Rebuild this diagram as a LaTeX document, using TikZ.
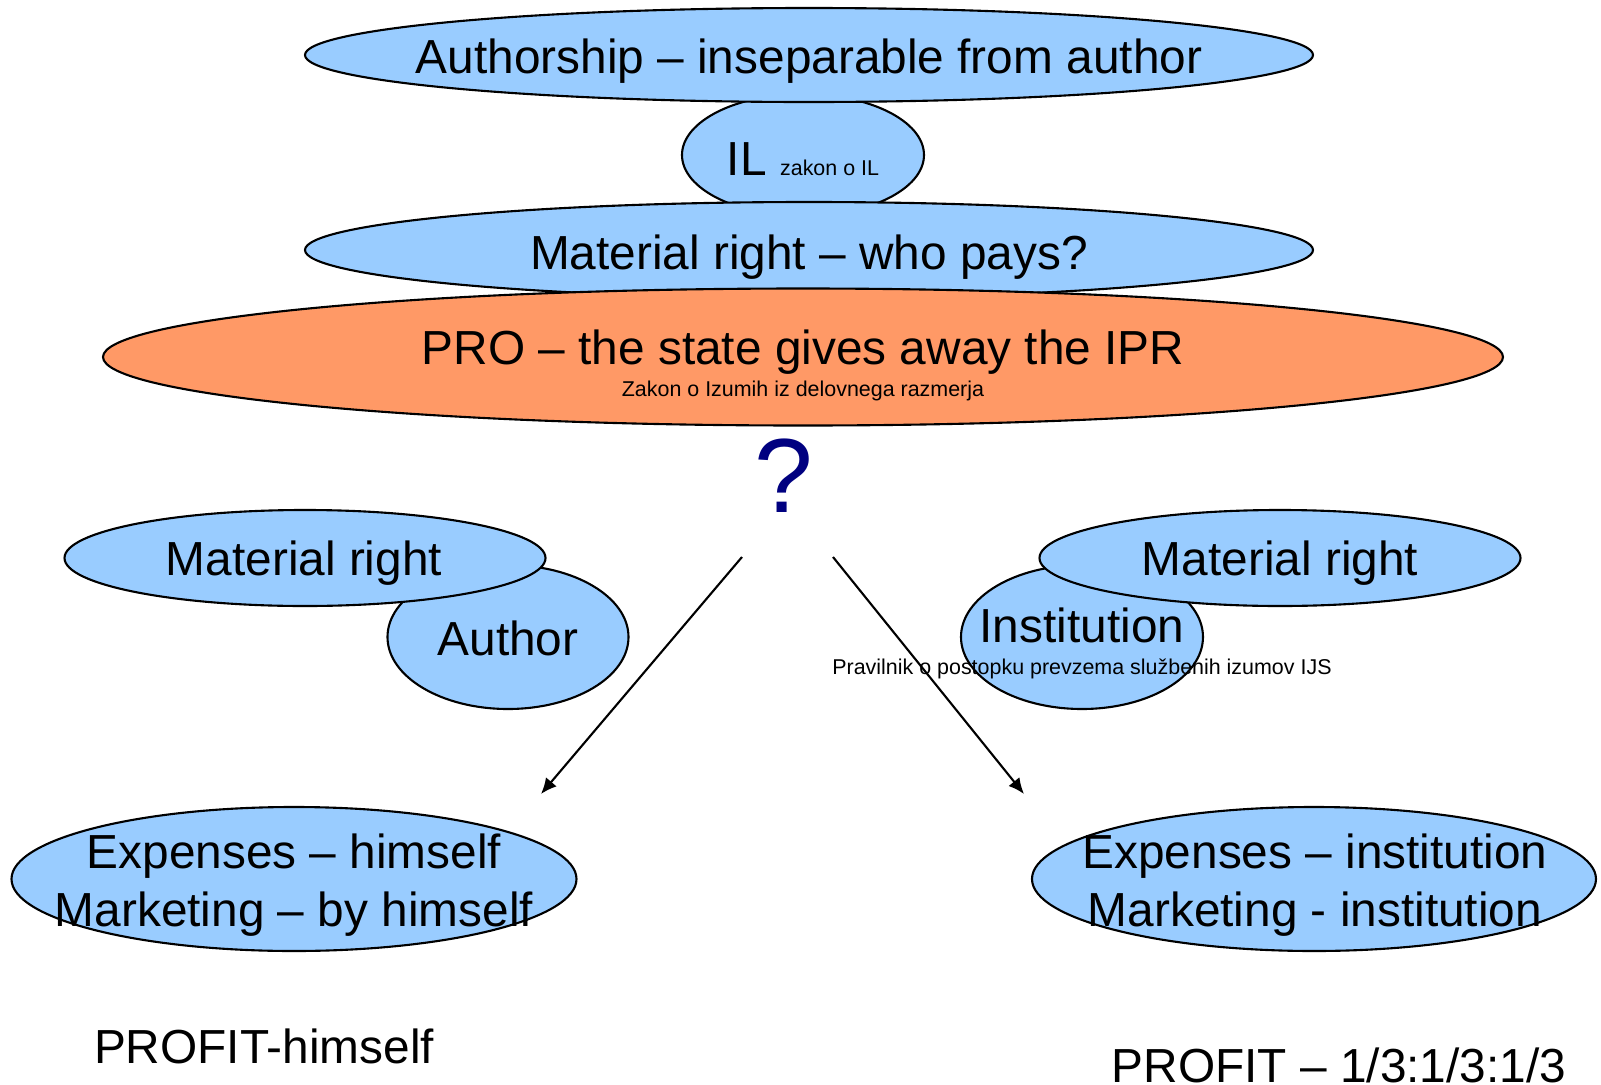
\documentclass[tikz,border=0pt]{standalone}
\usepackage{fontspec}
\setmainfont{Liberation Sans}
\usepackage{xcolor}
\usetikzlibrary{shapes.geometric,arrows.meta,positioning}
\definecolor{skyblue}{HTML}{99CCFF}
\definecolor{salmon}{HTML}{FF9966}
\definecolor{qnavy}{HTML}{000080}
\newcommand{\bigtxt}{\fontsize{13.6}{16.5}\selectfont}
\newcommand{\smalltxt}{\fontsize{6.1}{7}\selectfont}

\begin{document}
\begin{tikzpicture}[
  blob/.style={ellipse, draw=black, fill=skyblue, line width=0.6pt, inner sep=0pt},
  txt/.style={font=\bigtxt, inner sep=0pt, anchor=base},
  note/.style={font=\smalltxt, inner sep=0pt, anchor=base},
  arr/.style={-{Latex[length=4.5pt,width=4pt]}, line width=0.6pt, black}
]
\useasboundingbox (0,0) rectangle (16.01,-10.85);

% top stack
\node[blob, minimum width=2.42cm, minimum height=1.22cm] (il) at (8.03,-1.55) {};
\node[blob, minimum width=10.08cm, minimum height=0.94cm] (auth) at (8.09,-0.55) {};
\node[blob, minimum width=10.08cm, minimum height=0.96cm] (pays) at (8.09,-2.50) {};
\node[blob, fill=salmon, minimum width=14.0cm, minimum height=1.37cm] (pro) at (8.03,-3.57) {};

\node[txt] (authtxt) at (8.09,-0.73) {Authorship – inseparable from author};
\node[txt] (iltxt) at (8.03,-1.75) {IL\ {\smalltxt zakon o IL}};
\node[txt] (paystxt) at (8.09,-2.69) {Material right – who pays?};
\node[txt] (protxt) at (8.03,-3.64) {PRO – the state gives away the IPR};
\node[note] (zakon) at (8.03,-3.96) {Zakon o Izumih iz delovnega razmerja};

\node[txt, font=\fontsize{30}{32}\selectfont, text=qnavy] (quest) at (7.84,-5.12) {?};

% left branch
\node[blob, minimum width=2.41cm, minimum height=1.44cm] (author) at (5.08,-6.37) {};
\node[blob, minimum width=4.81cm, minimum height=0.96cm] (matl) at (3.05,-5.58) {};
\node[txt] (matltxt) at (3.04,-5.75) {Material right};
\node[txt] (authortxt) at (5.08,-6.55) {Author};

% right branch
\node[blob, minimum width=2.42cm, minimum height=1.44cm] (inst) at (10.82,-6.37) {};
\node[blob, minimum width=4.81cm, minimum height=0.96cm] (matr) at (12.80,-5.58) {};
\node[txt] (matrtxt) at (12.80,-5.75) {Material right};
\node[txt] (insttxt) at (10.82,-6.42) {Institution};
\node[note] (pravilnik) at (10.82,-6.74) {Pravilnik o postopku prevzema službenih izumov IJS};

% outcomes
\node[blob, minimum width=5.65cm, minimum height=1.44cm] (costl) at (2.94,-8.79) {};
\node[blob, minimum width=5.64cm, minimum height=1.44cm] (costr) at (13.14,-8.79) {};
\node[txt, anchor=center, align=center] (costltxt) at (2.94,-8.85) {Expenses – himself\\Marketing – by himself};
\node[txt, anchor=center, align=center] (costrtxt) at (13.15,-8.85) {Expenses – institution\\Marketing - institution};

\node[txt] (profl) at (2.64,-10.63) {PROFIT-himself};
\node[txt] (profr) at (13.39,-10.82) {PROFIT – 1/3:1/3:1/3};

% arrows
\coordinate (fromL) at (7.42,-5.57);
\coordinate (toL) at (5.41,-7.94);
\coordinate (fromR) at (8.33,-5.57);
\coordinate (toR) at (10.24,-7.94);
\draw[arr] (fromL) -- (toL);
\draw[arr] (fromR) -- (toR);
\end{tikzpicture}
\end{document}
